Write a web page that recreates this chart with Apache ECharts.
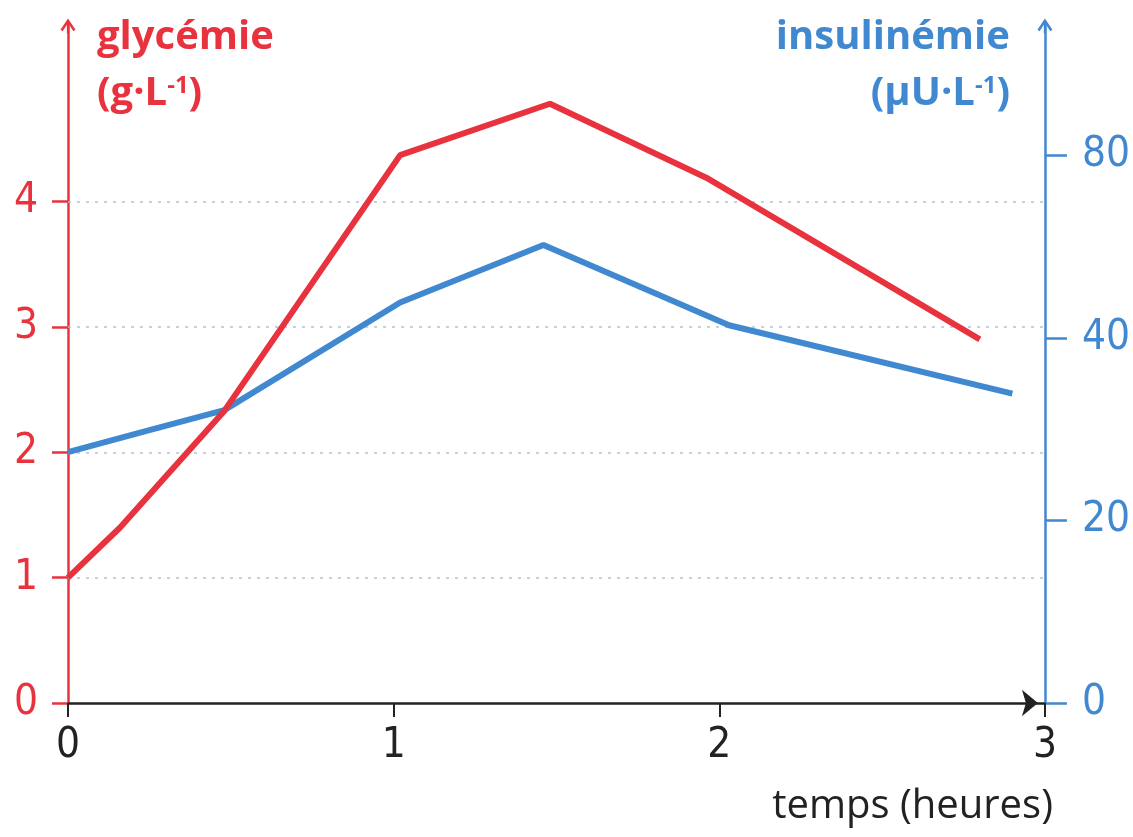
<!DOCTYPE html>
<html>
<head>
<meta charset="utf-8">
<script src="https://cdn.jsdelivr.net/npm/echarts@6/dist/echarts.min.js"></script>
<style>
  html, body { margin: 0; padding: 0; background: #fff; }
  #main { width: 1133px; height: 837px; }
</style>
</head>
<body>
<div id="main"></div>
<script>
// temps (heures) et glycémie (g/L)
const glyTime = [0, 0.16, 0.48, 1.02, 1.48, 1.96, 2.80];
const glyValues = [1.0, 1.40, 2.33, 4.37, 4.78, 4.19, 2.90];
const insTime = [0, 0.25, 0.48, 1.02, 1.46, 2.03, 2.90];
const insValues = [27.5, 29.9, 32.1, 43.9, 50.2, 41.4, 33.9];

const timeTicks = [0, 1, 2, 3];
const glyTicks = [0, 1, 2, 3, 4];
const insTickValues = [0, 20, 40, 60];
const insTickLabels = ['0', '20', '40', '80'];
const gridLevels = [1, 2, 3, 4];

const RED = '#e8333f';
const BLUE = '#4088cf';
const digitFont = "'Liberation Sans Narrow', 'DejaVu Sans Condensed', sans-serif";
const titleFont = "'Open Sans', sans-serif";
const chevron = 'path://M0,9 L6,0 L12,9 L10.3,10.2 L6.9,5 L6.9,12 L5.1,12 L5.1,5 L1.7,10.2 Z';

function pairs(xs, ys) {
    return xs.map(function (x, i) { return [x, ys[i]]; });
}

let myChart = echarts.init(document.getElementById('main'));
myChart.setOption({
    animation: false,
    grid: { left: 68, right: 83, top: 26, bottom: 134 },
    xAxis: {
        type: 'value',
        min: 0,
        max: 3,
        interval: 1,
        name: 'temps (heures)',
        nameLocation: 'end',
        nameGap: 8,
        nameTextStyle: {
            fontFamily: titleFont, fontSize: 40, color: '#222',
            align: 'right', verticalAlign: 'top', padding: [84, 0, 0, 0]
        },
        axisLine: {
            onZero: false,
            lineStyle: { color: '#222', width: 2.5 },
            symbol: ['none', 'arrow'],
            symbolSize: [20, 16],
            symbolOffset: [0, -7]
        },
        axisTick: { show: true, length: 14, lineStyle: { color: '#222', width: 2 }, customValues: timeTicks },
        axisLabel: { fontFamily: digitFont, fontSize: 42, color: '#222', margin: 22, customValues: timeTicks },
        splitLine: { show: false }
    },
    yAxis: [
        {
            type: 'value',
            position: 'left',
            min: 0,
            max: 5.4,
            name: '{t|glycémie}\n{t|(g·L}{s|-1}{t|)}',
            nameLocation: 'end',
            nameGap: 16,
            nameTextStyle: {
                align: 'left', verticalAlign: 'top', padding: [0, 0, 0, 29],
                rich: {
                    t: { fontFamily: titleFont, fontWeight: 'bold', fontSize: 40, color: RED, lineHeight: 56 },
                    s: { fontFamily: titleFont, fontWeight: 'bold', fontSize: 24, color: RED, verticalAlign: 'top', lineHeight: 36, padding: [8, 0, 0, 0] }
                }
            },
            axisLine: {
                show: true,
                lineStyle: { color: RED, width: 2.5 },
                symbol: ['none', chevron],
                symbolSize: [16, 15]
            },
            axisTick: { show: true, length: 16, lineStyle: { color: RED, width: 2.5 }, customValues: glyTicks },
            axisLabel: { fontFamily: digitFont, fontSize: 42, color: RED, margin: 30, customValues: glyTicks },
            splitLine: { show: false }
        },
        {
            type: 'value',
            position: 'right',
            min: 0,
            max: 74.2,
            name: '{t|insulinémie}\n{t|(µU·L}{s|-1}{t|)}',
            nameLocation: 'end',
            nameGap: 16,
            nameTextStyle: {
                align: 'right', verticalAlign: 'top', padding: [0, 35, 0, 0],
                rich: {
                    t: { fontFamily: titleFont, fontWeight: 'bold', fontSize: 40, color: BLUE, lineHeight: 56, align: 'right' },
                    s: { fontFamily: titleFont, fontWeight: 'bold', fontSize: 24, color: BLUE, verticalAlign: 'top', lineHeight: 36, padding: [8, 0, 0, 0] }
                }
            },
            axisLine: {
                show: true,
                lineStyle: { color: BLUE, width: 2.5 },
                symbol: ['none', chevron],
                symbolSize: [16, 15]
            },
            axisTick: { show: true, length: 22, lineStyle: { color: BLUE, width: 2.5 }, customValues: insTickValues },
            axisLabel: {
                fontFamily: digitFont, fontSize: 42, color: BLUE, margin: 37,
                customValues: insTickValues,
                formatter: function (v) {
                    return insTickLabels[insTickValues.indexOf(v)];
                }
            },
            splitLine: { show: false }
        }
    ],
    series: [
        {
            name: 'insulinémie',
            type: 'line',
            yAxisIndex: 1,
            data: pairs(insTime, insValues),
            symbol: 'none',
            lineStyle: { color: BLUE, width: 6 },
            z: 3
        },
        {
            name: 'glycémie',
            type: 'line',
            yAxisIndex: 0,
            data: pairs(glyTime, glyValues),
            symbol: 'none',
            lineStyle: { color: RED, width: 6 },
            z: 4,
            markLine: {
                silent: true,
                symbol: 'none',
                label: { show: false },
                lineStyle: { type: [3, 6], color: '#b3c2d8', width: 1.5 },
                data: gridLevels.map(function (v) { return { yAxis: v }; }),
                z: 1
            }
        }
    ]
});
</script>
</body>
</html>
